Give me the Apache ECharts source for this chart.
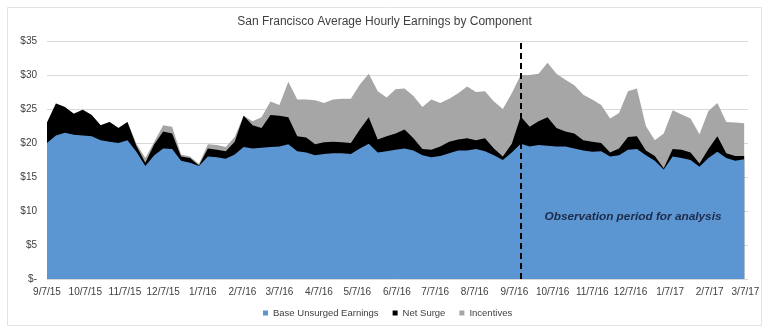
<!DOCTYPE html>
<html>
<head>
<meta charset="utf-8">
<script src="https://cdn.jsdelivr.net/npm/echarts@6/dist/echarts.min.js"></script>
<style>
  html, body { margin: 0; padding: 0; background: #fff; }
  #chart { width: 769px; height: 327px; }
</style>
</head>
<body>
<div id="chart"></div>
<script>
// Weekly San Francisco hourly earnings, split into three stacked components ($/hr).
const firstWeek = '9/7/15';

const baseEarnings = [
  20.0, 21.1, 21.5, 21.2, 21.1, 21.0, 20.4, 20.2, 20.0, 20.4,
  18.7, 16.6, 18.2, 19.2, 19.1, 17.4, 17.1, 16.6, 18.0, 17.9,
  17.7, 18.3, 19.4, 19.2, 19.3, 19.4, 19.5, 19.8, 18.8, 18.6,
  18.2, 18.4, 18.5, 18.5, 18.4, 19.2, 19.9, 18.6, 18.8, 19.0,
  19.2, 18.9, 18.2, 17.9, 18.1, 18.5, 18.9, 18.9, 19.1, 18.8,
  18.2, 17.5, 18.6, 19.9, 19.5, 19.7, 19.6, 19.5, 19.5, 19.2,
  18.9, 18.7, 18.8, 18.0, 18.2, 19.0, 19.1, 18.2, 17.4, 16.1,
  18.0, 17.8, 17.5, 16.5, 17.8, 18.7, 17.8, 17.4, 17.6
];

const netSurge = [
  3.0, 4.7, 3.8, 3.1, 3.8, 3.1, 2.2, 2.9, 2.2, 2.7,
  0.9, 0.5, 1.6, 2.5, 2.3, 0.6, 0.7, 0.1, 1.2, 1.1,
  1.1, 1.9, 4.6, 3.4, 2.9, 4.7, 4.5, 4.0, 2.2, 2.2,
  1.6, 1.7, 1.7, 1.6, 1.6, 2.8, 3.9, 1.9, 2.2, 2.4,
  2.8, 1.8, 0.9, 1.1, 1.4, 1.7, 1.6, 1.8, 1.3, 1.9,
  1.0, 0.5, 1.3, 4.0, 2.9, 3.5, 4.2, 2.7, 2.2, 2.2,
  1.5, 1.5, 1.2, 0.6, 1.0, 1.9, 1.9, 0.7, 0.7, 0.2,
  1.1, 1.2, 1.1, 0.5, 1.3, 2.3, 0.7, 0.7, 0.5
];

const incentives = [
  0.0, 0.0, 0.0, 0.0, 0.0, 0.0, 0.0, 0.0, 0.0, 0.0,
  0.3, 0.7, 0.4, 0.9, 1.0, 0.3, 0.2, 0.2, 0.6, 0.7,
  0.6, 0.7, 0.0, 0.6, 1.6, 2.0, 1.6, 5.2, 5.4, 5.6,
  6.5, 5.8, 6.2, 6.4, 6.5, 6.6, 6.4, 7.1, 5.7, 6.5,
  6.0, 6.2, 6.2, 7.4, 6.4, 6.3, 6.8, 7.6, 7.1, 6.9,
  6.9, 7.0, 7.4, 6.1, 7.6, 7.0, 8.0, 8.0, 7.6, 7.1,
  6.7, 6.2, 5.6, 5.0, 5.2, 6.7, 7.0, 3.6, 2.3, 5.1,
  5.7, 5.2, 5.0, 4.3, 5.6, 4.9, 4.6, 4.9, 4.8
];

const tickLabels = [
  '9/7/15', '10/7/15', '11/7/15', '12/7/15', '1/7/16', '2/7/16', '3/7/16',
  '4/7/16', '5/7/16', '6/7/16', '7/7/16', '8/7/16', '9/7/16', '10/7/16',
  '11/7/16', '12/7/16', '1/7/17', '2/7/17', '3/7/17'
];

const seriesNames = ['Base Unsurged Earnings', 'Net Surge', 'Incentives'];
const seriesColors = ['#5b96d2', '#000000', '#a6a6a6'];

const observationStart = '9/12/16';
const axisEnd = '3/9/17';
const observationText = 'Observation period for analysis';

// m/d/yy -> whole days since the first week
const DAY = 86400000;
function parseMDY(s) {
  const p = s.split('/').map(Number);
  return Date.UTC(2000 + p[2], p[0] - 1, p[1]);
}
const t0 = parseMDY(firstWeek);
const dayOf = (s) => Math.round((parseMDY(s) - t0) / DAY);
const weekDays = baseEarnings.map((_, i) => i * 7);
const tickDays = tickLabels.map(dayOf);
const labelByDay = {};
tickDays.forEach((d, i) => { labelByDay[d] = tickLabels[i]; });

const FONT = '"Liberation Sans", Arial, Helvetica, sans-serif';

// Running totals of the components: each band is filled from zero and the
// lower bands are painted over the higher ones, giving a stacked area.
const components = [baseEarnings, netSurge, incentives];
const running = [];
components.forEach((vals, k) => {
  running.push(vals.map((v, i) => +((k ? running[k - 1][i] : 0) + v).toFixed(2)));
});

const series = components.map((vals, k) => ({
  name: seriesNames[k],
  type: 'line',
  symbol: 'none',
  smooth: false,
  lineStyle: { width: 0 },
  areaStyle: { color: seriesColors[k], opacity: 1, origin: 'start' },
  itemStyle: { color: seriesColors[k] },
  emphasis: { disabled: true },
  data: running[k].map((v, i) => [weekDays[i], v]),
  z: 10 - k
}));

series[2].markLine = {
  silent: true,
  symbol: 'none',
  animation: false,
  label: { show: false },
  lineStyle: { color: '#000', width: 2, type: [6, 4] },
  data: [{ xAxis: dayOf(observationStart) }],
  z: 20
};

const chart = echarts.init(document.getElementById('chart'), null, { renderer: 'canvas' });
chart.setOption({
  animation: false,
  backgroundColor: '#ffffff',
  title: {
    text: 'San Francisco Average Hourly Earnings by Component',
    left: 'center',
    top: 11,
    textStyle: { fontFamily: FONT, fontSize: 12, fontWeight: 'normal', color: '#404040' }
  },
  legend: {
    bottom: 4,
    left: 258,
    icon: 'rect',
    itemWidth: 5,
    itemHeight: 5,
    itemGap: 14,
    textStyle: { fontFamily: FONT, fontSize: 9.5, color: '#404040' },
    data: seriesNames
  },
  grid: { left: 47, right: 21, top: 41, bottom: 48, containLabel: false },
  xAxis: {
    type: 'value',
    min: 0,
    max: dayOf(axisEnd),
    axisLine: { show: false },
    axisTick: { show: false },
    splitLine: { show: false },
    axisLabel: {
      customValues: tickDays,
      formatter: (v) => labelByDay[v] || '',
      fontFamily: FONT,
      fontSize: 10,
      color: '#404040',
      margin: 8
    }
  },
  yAxis: {
    type: 'value',
    min: 0,
    max: 35,
    interval: 5,
    axisLine: { show: false },
    axisTick: { show: false },
    splitLine: { lineStyle: { color: '#d9d9d9', width: 1 } },
    axisLabel: {
      formatter: (v) => (v === 0 ? '$-' : '$' + v),
      fontFamily: FONT,
      fontSize: 10,
      color: '#404040',
      margin: 10
    }
  },
  graphic: [
    {
      type: 'rect',
      silent: true,
      shape: { x: 7.5, y: 7.5, width: 754, height: 318 },
      style: { fill: 'none', stroke: '#e3e3e3', lineWidth: 1 },
      z: -10
    },
    {
      type: 'text',
      silent: true,
      x: 633,
      y: 217,
      style: {
        text: observationText,
        font: 'italic bold 11.8px ' + FONT,
        fill: '#1d2a48',
        align: 'center',
        verticalAlign: 'middle'
      },
      z: 100
    }
  ],
  series: series
});
</script>
</body>
</html>
